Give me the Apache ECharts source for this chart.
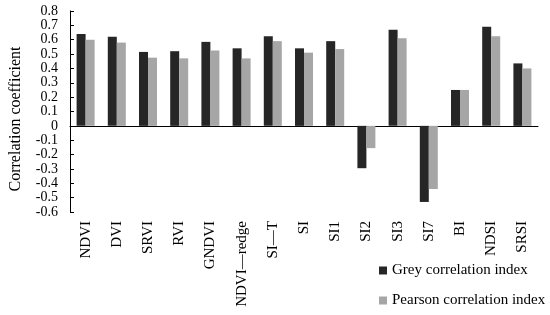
<!DOCTYPE html>
<html>
<head>
<meta charset="utf-8">
<script src="https://cdn.jsdelivr.net/npm/echarts@6/dist/echarts.min.js"></script>
<style>html,body{margin:0;padding:0;background:#fff}#chart{width:550px;height:315px}</style>
</head>
<body>
<div id="chart"></div>
<script>
const categories = ['NDVI', 'DVI', 'SRVI', 'RVI', 'GNDVI', 'NDVI—redge', 'SI—T', 'SI', 'SI1', 'SI2', 'SI3', 'SI7', 'BI', 'NDSI', 'SRSI'];
const greyIndex = [0.64, 0.62, 0.515, 0.52, 0.585, 0.54, 0.625, 0.54, 0.59, -0.295, 0.67, -0.53, 0.25, 0.69, 0.435];
const pearsonIndex = [0.60, 0.58, 0.475, 0.47, 0.525, 0.47, 0.59, 0.51, 0.535, -0.155, 0.61, -0.44, 0.25, 0.625, 0.40];
const seriesNames = ['Grey correlation index', 'Pearson correlation index'];

const font = 'Liberation Serif, Times New Roman, serif';
const chart = echarts.init(document.getElementById('chart'), null, { renderer: 'canvas' });

chart.setOption({
  animation: false,
  textStyle: { fontFamily: font, color: '#000' },
  grid: { left: 70, right: 12, top: 11, bottom: 103, outerBoundsMode: 'none', containLabel: false },
  // y axis title sits a bit below the grid middle in the original
  graphic: [{
    type: 'text',
    x: 16,
    y: 119,
    rotation: Math.PI / 2,
    style: {
      text: 'Correlation coefficient',
      font: '16px ' + font,
      fill: '#000',
      textAlign: 'center',
      textVerticalAlign: 'middle'
    }
  }],
  legend: {
    orient: 'vertical',
    left: 374,
    top: 258,
    itemWidth: 8,
    itemHeight: 8,
    itemGap: 15,
    icon: 'rect',
    textStyle: { fontFamily: font, fontSize: 15, color: '#000' },
    data: seriesNames
  },
  xAxis: [
    {
      type: 'category',
      data: categories,
      axisLine: { onZero: true, lineStyle: { color: '#000', width: 1 } },
      axisTick: { inside: true, length: 4, lineStyle: { color: '#000' } },
      axisLabel: { show: false }
    },
    {
      type: 'category',
      data: categories,
      position: 'bottom',
      axisLine: { show: false, onZero: false },
      axisTick: { show: false },
      axisLabel: { rotate: 90, fontSize: 15, color: '#000', fontFamily: font, margin: 9, interval: 0 },
      name: 'Spectral index',
      nameLocation: 'middle',
      nameGap: 84,
      nameTextStyle: { fontFamily: font, fontSize: 16, color: '#000' }
    }
  ],
  yAxis: {
    type: 'value',
    min: -0.6,
    max: 0.8,
    interval: 0.1,
    axisLine: { show: true, lineStyle: { color: '#000' } },
    axisTick: { show: true, inside: true, length: 4, lineStyle: { color: '#000' } },
    splitLine: { show: false },
    axisLabel: {
      fontSize: 14, color: '#000', fontFamily: font, margin: 12,
      showMinLabel: true, showMaxLabel: true, hideOverlap: false,
      formatter: v => (Math.abs(v) < 1e-9 ? '0' : v.toFixed(1))
    }
  },
  series: [
    {
      name: seriesNames[0], type: 'bar', xAxisIndex: 0, data: greyIndex,
      barWidth: 9, barGap: '0%', itemStyle: { color: '#262626' }
    },
    {
      name: seriesNames[1], type: 'bar', xAxisIndex: 0, data: pearsonIndex,
      barWidth: 9, barGap: '0%', itemStyle: { color: '#a6a6a6' }
    }
  ]
});
</script>
</body>
</html>
